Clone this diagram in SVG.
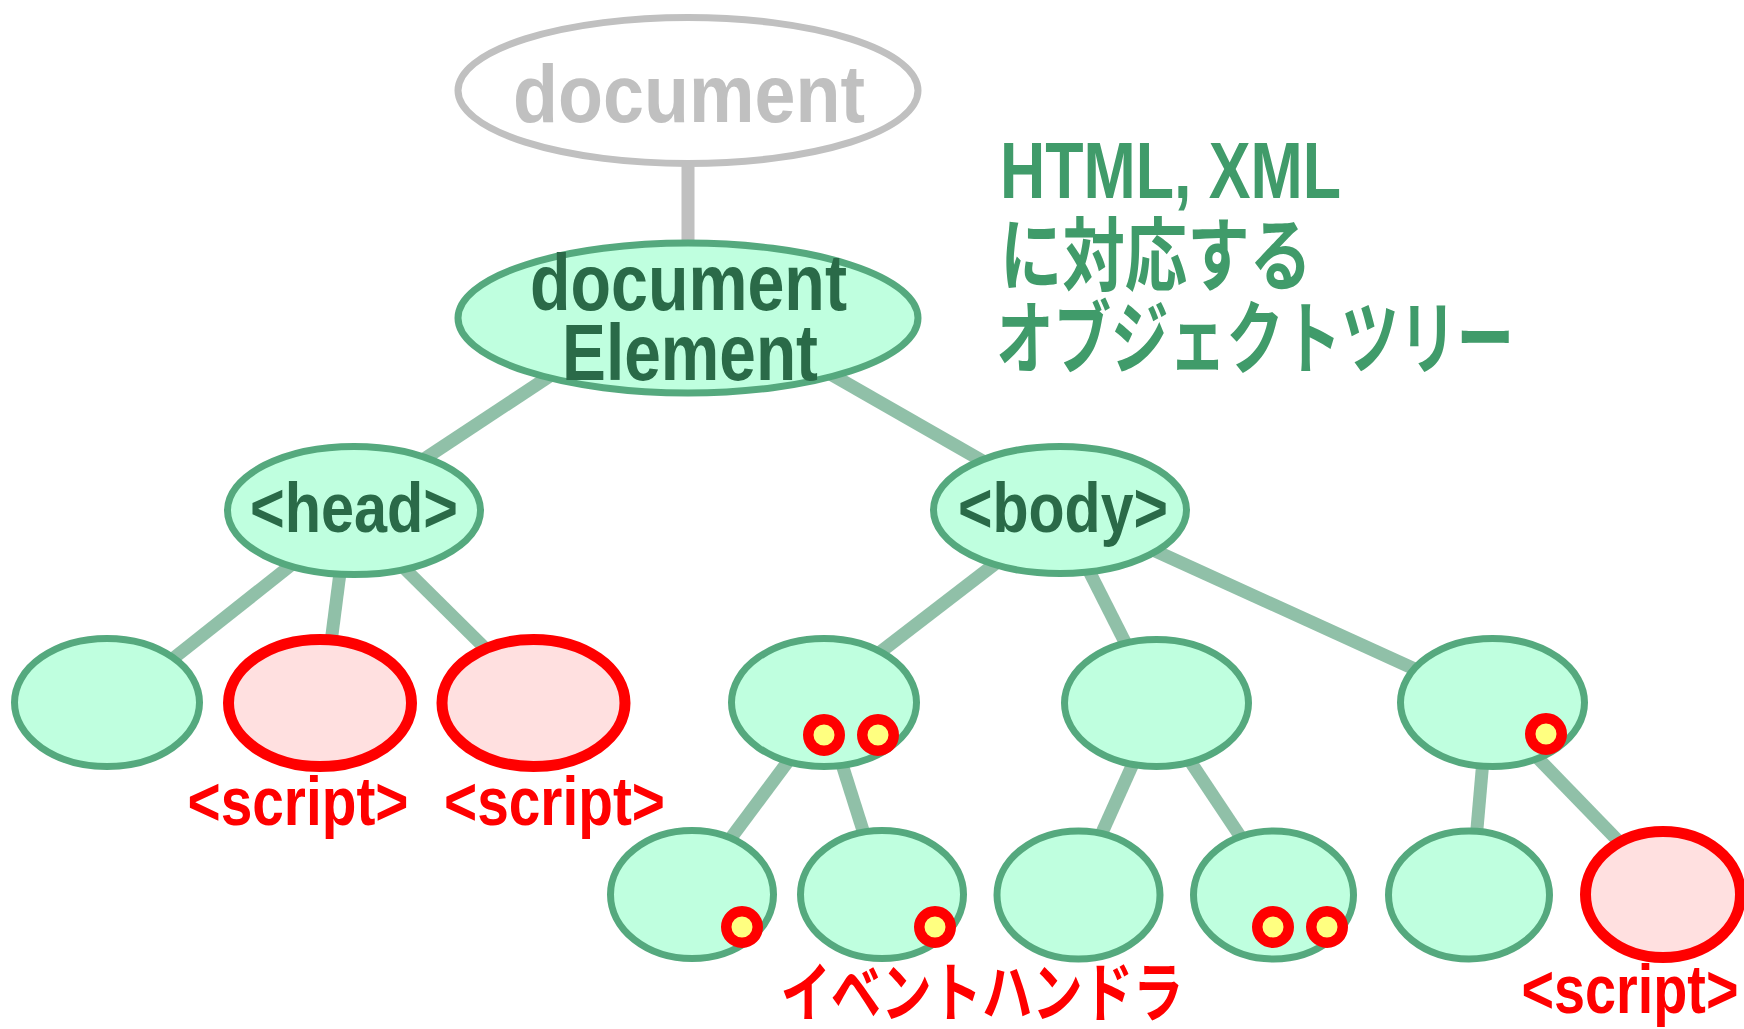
<svg xmlns="http://www.w3.org/2000/svg" width="1744" height="1029" viewBox="0 0 1744 1029">
  <style>
    .bg { fill: #ffffff; }
    .edge { stroke: #90c0a8; stroke-width: 13; fill: none; }
    .edge-root { stroke: #c0c0c0; stroke-width: 13; fill: none; }
    .root { fill: #ffffff; stroke: #c0c0c0; stroke-width: 7; }
    .node { fill: #bfffdf; stroke: #55a97e; stroke-width: 7; }
    .script { fill: #ffe0e0; stroke: #ff0000; stroke-width: 11; }
    .handler { fill: #ffff80; stroke: #ff0000; stroke-width: 10.5; }
    .lbl { font-family: "Liberation Sans", "Noto Sans CJK JP", sans-serif; font-weight: bold; text-anchor: middle; }
    .root-lbl { fill: #c0c0c0; font-size: 82px; }
    .node-lbl { fill: #2a6a48; }
    .red-lbl { fill: #ff0000; font-size: 68px; }
    .title { font-family: "Liberation Sans", "Noto Sans CJK JP", sans-serif; font-weight: bold; fill: #409b6a; font-size: 80px; }
  </style>

  <rect class="bg" x="0" y="0" width="1744" height="1029"/>

  <!-- tree edges, drawn beneath the nodes -->
  <g id="connectors">
    <line class="edge-root" x1="688" y1="160" x2="688" y2="245"/>
    <line class="edge" x1="580" y1="356" x2="400" y2="475"/>
    <line class="edge" x1="820" y1="368" x2="1000" y2="471"/>
    <line class="edge" x1="300" y1="558" x2="170" y2="661"/>
    <line class="edge" x1="341" y1="565" x2="330" y2="650"/>
    <line class="edge" x1="400" y1="564" x2="495" y2="658"/>
    <line class="edge" x1="1000" y1="560" x2="870" y2="660"/>
    <line class="edge" x1="1086" y1="565" x2="1130" y2="652"/>
    <line class="edge" x1="1140" y1="544" x2="1430" y2="676"/>
    <line class="edge" x1="795" y1="752" x2="722" y2="850"/>
    <line class="edge" x1="840" y1="758" x2="866" y2="840"/>
    <line class="edge" x1="1136" y1="757" x2="1096" y2="846"/>
    <line class="edge" x1="1186" y1="755" x2="1246" y2="845"/>
    <line class="edge" x1="1483" y1="760" x2="1476" y2="840"/>
    <line class="edge" x1="1530" y1="750" x2="1627" y2="850"/>
  </g>

  <g id="document">
    <ellipse class="root" cx="688" cy="90.5" rx="230" ry="73"/>
    <text class="lbl root-lbl" x="689" y="122" textLength="352" lengthAdjust="spacingAndGlyphs">document</text>
  </g>

  <g id="documentElement">
    <ellipse class="node" cx="688" cy="318" rx="230" ry="75"/>
    <text class="lbl node-lbl" x="688.5" y="310" font-size="80" textLength="317" lengthAdjust="spacingAndGlyphs">document</text>
    <text class="lbl node-lbl" x="690" y="380" font-size="80" textLength="256" lengthAdjust="spacingAndGlyphs">Element</text>
  </g>

  <g id="head">
    <ellipse class="node" cx="354" cy="510.5" rx="126.5" ry="64"/>
    <text class="lbl node-lbl" x="354" y="532" font-size="71" textLength="208" lengthAdjust="spacingAndGlyphs">&lt;head&gt;</text>
  </g>

  <g id="body">
    <ellipse class="node" cx="1060" cy="510" rx="126.5" ry="63.5"/>
    <text class="lbl node-lbl" x="1063" y="532" font-size="71" textLength="210" lengthAdjust="spacingAndGlyphs">&lt;body&gt;</text>
  </g>

  <!-- children of head -->
  <g id="head-child-1">
    <ellipse class="node" cx="107" cy="702.5" rx="92.5" ry="64"/>
  </g>
  <g id="head-script-1">
    <ellipse class="script" cx="320" cy="703" rx="91.5" ry="63.5"/>
    <text class="lbl red-lbl" x="298" y="825" textLength="221" lengthAdjust="spacingAndGlyphs">&lt;script&gt;</text>
  </g>
  <g id="head-script-2">
    <ellipse class="script" cx="533.5" cy="703" rx="91.5" ry="63.5"/>
    <text class="lbl red-lbl" x="554.5" y="825" textLength="221" lengthAdjust="spacingAndGlyphs">&lt;script&gt;</text>
  </g>

  <!-- children of body -->
  <g id="body-child-1">
    <ellipse class="node" cx="824" cy="702.5" rx="92.5" ry="64"/>
    <circle class="handler" cx="824" cy="735" r="15.75"/>
    <circle class="handler" cx="878" cy="735" r="15.75"/>
  </g>
  <g id="body-child-2">
    <ellipse class="node" cx="1156.5" cy="703" rx="92" ry="63.5"/>
  </g>
  <g id="body-child-3">
    <ellipse class="node" cx="1492.5" cy="702.5" rx="92" ry="64"/>
    <circle class="handler" cx="1546" cy="734" r="15.75"/>
  </g>

  <!-- leaves -->
  <g id="leaf-1">
    <ellipse class="node" cx="692" cy="894.5" rx="81.5" ry="64"/>
    <circle class="handler" cx="742" cy="927" r="15.75"/>
  </g>
  <g id="leaf-2">
    <ellipse class="node" cx="882" cy="894.5" rx="81.5" ry="64"/>
    <circle class="handler" cx="935" cy="927" r="15.75"/>
  </g>
  <g id="leaf-3">
    <ellipse class="node" cx="1078.5" cy="895" rx="81.5" ry="64"/>
  </g>
  <g id="leaf-4">
    <ellipse class="node" cx="1273.5" cy="895" rx="80" ry="64"/>
    <circle class="handler" cx="1273" cy="927" r="15.75"/>
    <circle class="handler" cx="1327" cy="927" r="15.75"/>
  </g>
  <g id="leaf-5">
    <ellipse class="node" cx="1469" cy="895" rx="80.5" ry="64"/>
  </g>
  <g id="leaf-script">
    <ellipse class="script" cx="1663" cy="894.5" rx="77.5" ry="63"/>
    <!-- condensed with a transform so the label stays inside the right edge -->
    <text class="lbl red-lbl" x="0" y="0" transform="translate(1630 1013) scale(0.82 1)">&lt;script&gt;</text>
  </g>

  <g id="handler-label">
    <text class="lbl" x="982" y="1016" font-size="65" fill="#ff0000" font-family="'Noto Sans CJK JP', sans-serif" textLength="403" lengthAdjust="spacingAndGlyphs">イベントハンドラ</text>
  </g>

  <g id="caption">
    <text class="title" x="1000" y="198" textLength="341" lengthAdjust="spacingAndGlyphs">HTML, XML</text>
    <text class="title" x="1000" y="284" font-family="'Noto Sans CJK JP', sans-serif" textLength="312" lengthAdjust="spacingAndGlyphs">に対応する</text>
    <text class="title" x="996" y="367" font-family="'Noto Sans CJK JP', sans-serif" textLength="518" lengthAdjust="spacingAndGlyphs">オブジェクトツリー</text>
  </g>
</svg>
